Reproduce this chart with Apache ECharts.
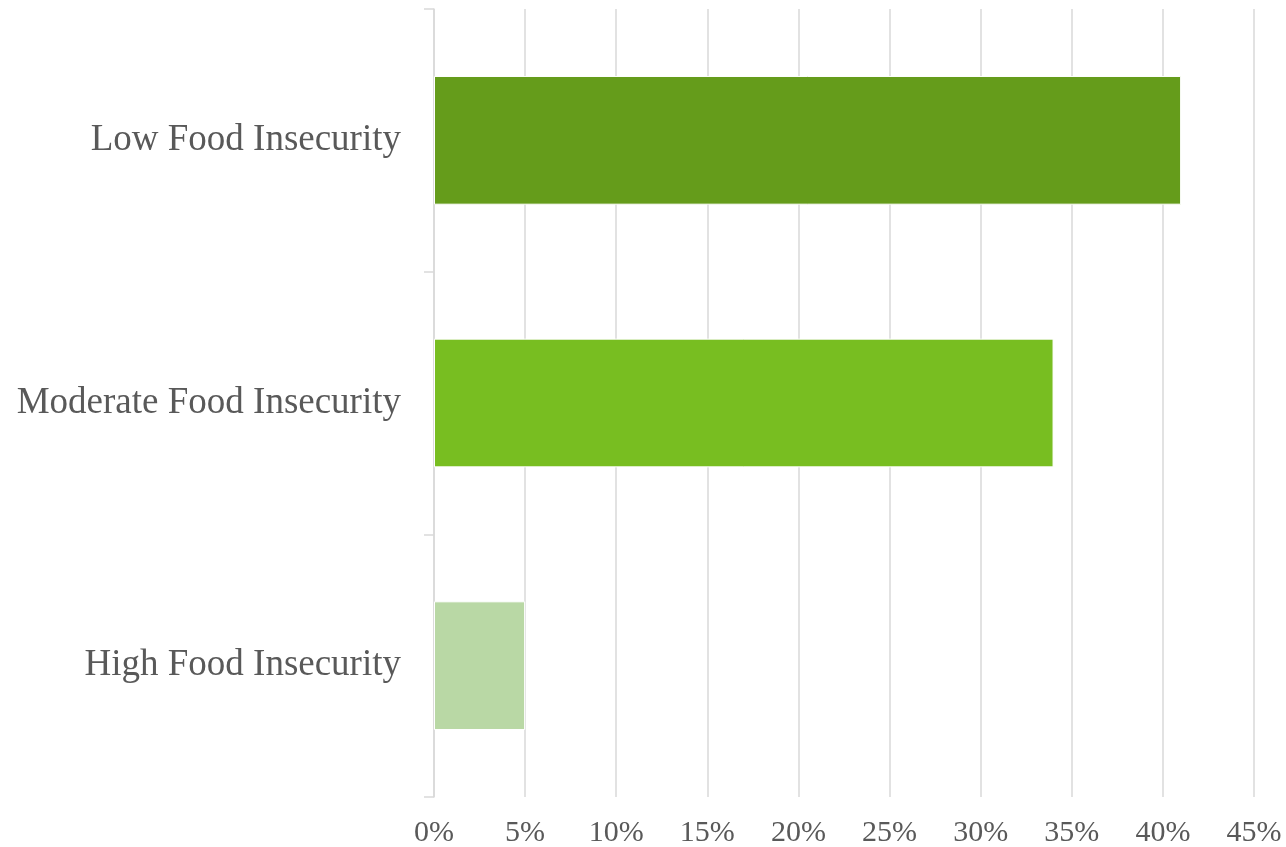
<!DOCTYPE html>
<html>
<head>
<meta charset="utf-8">
<script src="https://cdn.jsdelivr.net/npm/echarts@6/dist/echarts.min.js"></script>
<style>
html,body{margin:0;padding:0;background:#fff;}
#chart{width:1286px;height:847px;}
</style>
</head>
<body>
<div id="chart"></div>
<script>
const categories = ['Low Food Insecurity', 'Moderate Food Insecurity', 'High Food Insecurity'];
const values = [41, 34, 5];
const barColors = ['#659C1B', '#78BE21', '#B9D8A5'];
const xTicks = [0, 5, 10, 15, 20, 25, 30, 35, 40, 45];

const chart = echarts.init(document.getElementById('chart'));
const font = '"Liberation Serif", "Times New Roman", serif';
chart.setOption({
  animation: false,
  backgroundColor: '#ffffff',
  grid: {left: 434, right: 32, top: 9, bottom: 50, containLabel: false, outerBoundsMode: 'none'},
  xAxis: {
    type: 'value',
    min: xTicks[0],
    max: xTicks[xTicks.length - 1],
    interval: 5,
    axisLine: {show: false},
    axisTick: {show: false},
    splitLine: {show: true, lineStyle: {color: '#d9d9d9', width: 1.5}},
    axisLabel: {
      color: '#595959', fontFamily: font, fontSize: 30, margin: 21,
      formatter: v => v + '%'
    }
  },
  yAxis: {
    type: 'category',
    data: categories,
    inverse: true,
    axisLine: {show: true, lineStyle: {color: '#d9d9d9', width: 1.5}},
    axisTick: {show: true, length: 10, lineStyle: {color: '#d9d9d9', width: 1.5}},
    axisLabel: {color: '#595959', fontFamily: font, fontSize: 37, margin: 33}
  },
  series: [{
    type: 'bar',
    barWidth: '49%',
    data: values.map((v, i) => ({value: v, itemStyle: {color: barColors[i]}})),
    itemStyle: {borderColor: '#ffffff', borderWidth: 1}
  }]
});
</script>
</body>
</html>
